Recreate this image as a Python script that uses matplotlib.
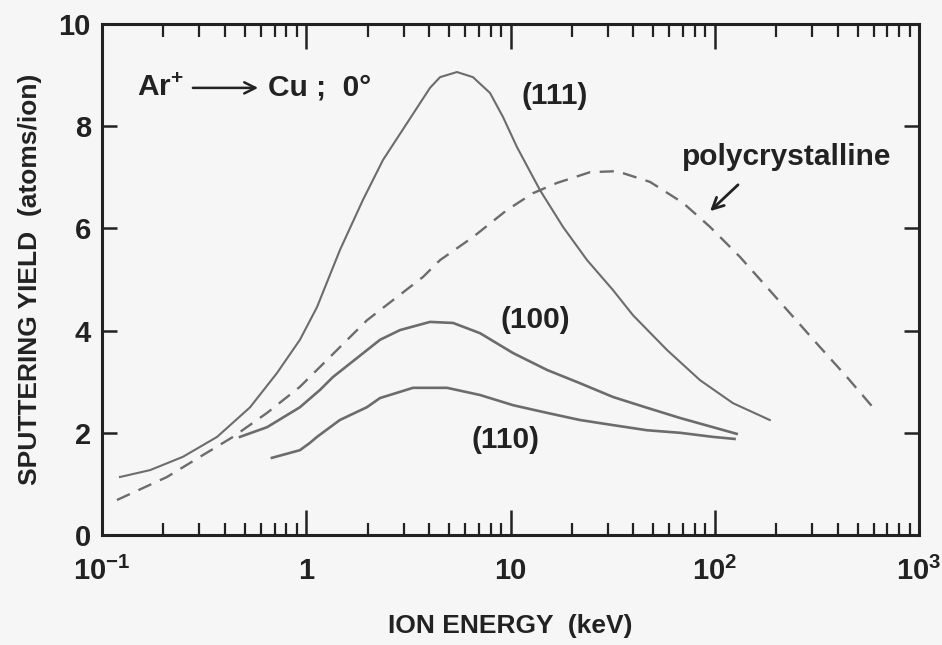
import numpy as np
import matplotlib.pyplot as plt
from matplotlib.ticker import LogLocator, NullFormatter

plt.rcParams['font.family'] = ['Liberation Sans', 'DejaVu Sans']
plt.rcParams['font.weight'] = 'bold'
plt.rcParams['axes.labelweight'] = 'bold'
plt.rcParams['mathtext.fontset'] = 'custom'
plt.rcParams['mathtext.rm'] = 'Liberation Sans:bold'
plt.rcParams['mathtext.it'] = 'Liberation Sans:bold'
plt.rcParams['mathtext.bf'] = 'Liberation Sans:bold'

# curves (energy in keV, yield in atoms/ion)
e_111 = [0.1225, 0.172, 0.249, 0.366, 0.531, 0.719, 0.931, 1.129, 1.463, 1.896,
         2.376, 3.114, 4.035, 4.52, 5.47, 6.55, 7.94, 9.19, 10.76, 13.94,
         18.07, 23.7, 31.8, 39.8, 58.4, 84.7, 122.8, 186]
y_111 = [1.135, 1.27, 1.53, 1.92, 2.50, 3.17, 3.82, 4.46, 5.58, 6.56,
         7.34, 8.06, 8.75, 8.96, 9.06, 8.96, 8.65, 8.18, 7.59, 6.75,
         6.03, 5.38, 4.79, 4.30, 3.62, 3.03, 2.58, 2.25]

e_poly = [0.1184, 0.208, 0.302, 0.438, 0.643, 0.931, 1.168, 1.98, 2.297, 3.73,
          4.52, 6.55, 9.61, 12.9, 16.9, 24.5, 33.2, 48.2, 69.9, 94.8,
          133, 180, 242, 327, 444, 609]
y_poly = [0.685, 1.135, 1.53, 1.92, 2.39, 2.90, 3.29, 4.2, 4.40, 5.05,
          5.38, 5.83, 6.36, 6.69, 6.89, 7.10, 7.12, 6.91, 6.50, 6.03,
          5.44, 4.85, 4.27, 3.68, 3.09, 2.45]

e_100 = [0.474, 0.643, 0.931, 1.168, 1.35, 2.297, 2.877, 4.035, 5.23, 7.09,
         10.3, 15.1, 21.9, 31.8, 46.6, 67.6, 98, 128]
y_100 = [1.92, 2.11, 2.50, 2.84, 3.09, 3.82, 4.01, 4.17, 4.15, 3.95,
         3.56, 3.23, 2.97, 2.70, 2.49, 2.29, 2.11, 1.98]

e_110 = [0.679, 0.931, 1.04, 1.129, 1.46, 1.98, 2.297, 3.33, 4.89, 7.09,
         10.3, 15.1, 21.9, 31.8, 46.6, 67.6, 98, 125]
y_110 = [1.51, 1.66, 1.8, 1.92, 2.25, 2.5, 2.68, 2.88, 2.88, 2.74,
         2.54, 2.39, 2.25, 2.15, 2.05, 2.0, 1.92, 1.88]

xticks = [0.1, 1, 10, 100, 1000]
xticklabels = ['10$^{-1}$', '1', '10', '10$^{2}$', '10$^{3}$']
yticks = [0, 2, 4, 6, 8, 10]

bg = '#f6f6f6'
ink = '#222222'
curve = '#6c6c6c'

fig = plt.figure(figsize=(9.42, 6.45), dpi=100, facecolor=bg)
ax = fig.add_axes([102/942, 1 - 535/645, (919 - 102)/942, (535 - 24)/645])
ax.set_facecolor(bg)

ax.plot(e_111, y_111, color=curve, lw=1.5, solid_joinstyle='round')
ax.plot(e_100, y_100, color=curve, lw=1.9, solid_joinstyle='round')
ax.plot(e_110, y_110, color=curve, lw=1.9, solid_joinstyle='round')
ax.plot(e_poly, y_poly, color=curve, lw=1.7, dashes=(6, 4))

ax.set_xscale('log')
ax.set_xlim(0.1, 1000)
ax.set_ylim(0, 10)
ax.set_xticks(xticks)
ax.set_xticklabels(xticklabels)
ax.set_yticks(yticks)
ax.xaxis.set_minor_locator(LogLocator(base=10, subs=np.arange(2, 10)))
ax.xaxis.set_minor_formatter(NullFormatter())

for s in ax.spines.values():
    s.set_linewidth(2.2)
    s.set_color(ink)

ax.tick_params(axis='x', which='major', direction='in', length=18, width=1.8,
               top=True, bottom=True, colors=ink, labelsize=21, pad=16)
ax.tick_params(axis='x', which='minor', direction='in', length=9, width=1.6,
               top=True, bottom=True, colors=ink)
ax.tick_params(axis='y', which='major', direction='in', length=11, width=1.8,
               left=True, right=True, colors=ink, labelsize=21, pad=8)

ax.set_xlabel('ION ENERGY  (keV)', fontsize=19, color=ink, labelpad=20)
ax.set_ylabel('SPUTTERING YIELD  (atoms/ion)', fontsize=19, color=ink, labelpad=12)

# annotations
ax.text(0.1483, 8.75, 'Ar$^{+}$', fontsize=21.5, color=ink, va='center', ha='left')
ax.annotate('', xy=(0.60, 8.75), xytext=(0.27, 8.75),
            arrowprops=dict(arrowstyle='->', color=ink, lw=1.8, mutation_scale=20))
ax.text(0.65, 8.75, 'Cu ;  0°', fontsize=21.5, color=ink, va='center', ha='left')

ax.text(16.5, 8.6, '(111)', fontsize=21.5, color=ink, ha='center', va='center')
ax.text(13.2, 4.2, '(100)', fontsize=21.5, color=ink, ha='center', va='center')
ax.text(9.4, 1.86, '(110)', fontsize=21.5, color=ink, ha='center', va='center')
ax.text(226, 7.4, 'polycrystalline', fontsize=21.5, color=ink, ha='center', va='center')
ax.annotate('', xy=(92.7, 6.3), xytext=(133, 6.89),
            arrowprops=dict(arrowstyle='->', color=ink, lw=2, mutation_scale=20))

fig.savefig('out.png', dpi=100, facecolor=bg)
